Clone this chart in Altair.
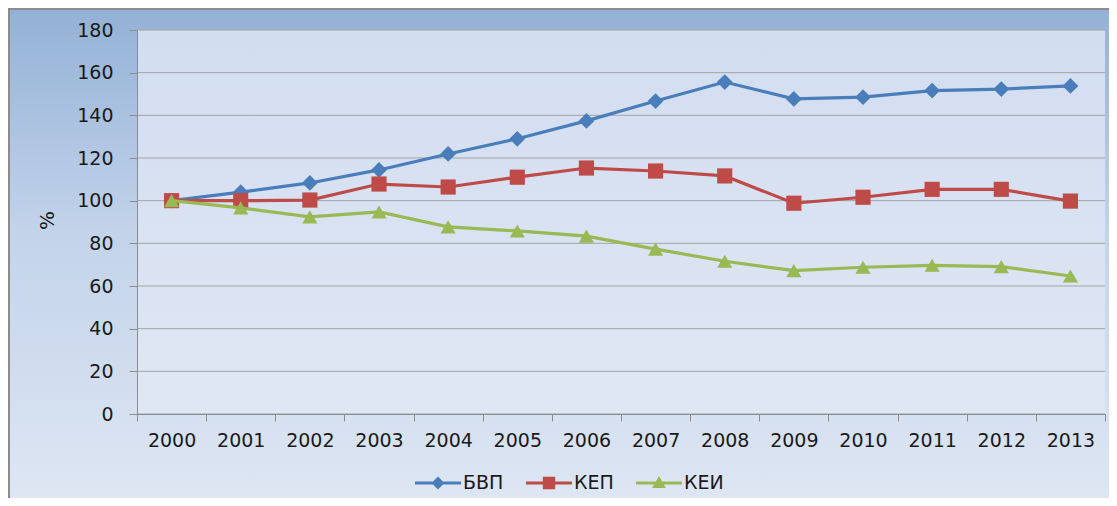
import altair as alt
import pandas as pd

years = [str(y) for y in range(2000, 2014)]
bvp = [100, 104, 108.3, 114.4, 121.9, 129, 137.4, 146.7, 155.6, 147.7, 148.5, 151.6, 152.3, 153.8]
kep = [100, 100, 100.3, 107.8, 106.4, 111, 115.3, 113.9, 111.6, 98.8, 101.6, 105.3, 105.3, 99.8]
kei = [100, 96.6, 92.4, 94.7, 87.7, 85.8, 83.4, 77.3, 71.6, 67.2, 68.8, 69.7, 69.1, 64.7]
series = ["БВП", "КЕП", "КЕИ"]
colors = ["#4A7EBB", "#BE4B48", "#98B954"]
markers = ["diamond", "square", "triangle-up"]
marker_sizes = [250, 230, 230]
y_ticks = list(range(0, 181, 20))

legend_paths = [
    "M-1,-0.065H1V0.065H-1Z M-0.28,0L0,-0.28L0.28,0L0,0.28Z",
    "M-1,-0.065H1V0.065H-1Z M-0.27,-0.27H0.27V0.27H-0.27Z",
    "M-1,-0.065H1V0.065H-1Z M0,-0.3L0.3,0.22L-0.3,0.22Z",
]

rows = []
for name, vals in zip(series, [bvp, kep, kei]):
    for yr, v in zip(years, vals):
        rows.append({"year": yr, "series": name, "value": v})
df = pd.DataFrame(rows)

W, H = 968, 384
PL, PT, PR, PB = 129, 22, 4, 84
FONT = "DejaVu Sans"
FS = 19

x_enc = alt.X(
    "year:O",
    scale=alt.Scale(type="band", domain=years, paddingInner=0, paddingOuter=0),
    axis=alt.Axis(
        title=None, labelAngle=0, tickBand="extent", grid=False,
        domainColor="#8C8C8C", tickColor="#8C8C8C", tickSize=7,
        labelFont=FONT, labelFontSize=FS, labelColor="#1A1A1A",
        labelPadding=10, zindex=1,
    ),
)
y_enc = alt.Y(
    "value:Q",
    scale=alt.Scale(domain=[0, 180], nice=False, zero=True),
    axis=alt.Axis(
        values=y_ticks, title="%", grid=False, tickSize=8,
        domainColor="#8C8C8C", tickColor="#8C8C8C",
        labelFont=FONT, labelFontSize=FS, labelColor="#1A1A1A",
        labelPadding=16, titleFont=FONT, titleFontSize=20,
        titleFontWeight="normal", titleColor="#1A1A1A",
        titleX=-80, titleY=190, zindex=1,
    ),
)

outer_bg = alt.Chart(alt.Data(values=[{}])).mark_rect(
    fill=alt.Gradient(
        gradient="linear", x1=0, y1=0, x2=0, y2=1,
        stops=[
            alt.GradientStop(color="#93B1D6", offset=0),
            alt.GradientStop(color="#C2D3EA", offset=0.45),
            alt.GradientStop(color="#DEE6F3", offset=1),
        ],
    ),
    stroke="#8C8C8C", strokeWidth=2,
).encode(
    x=alt.value(-PL + 1), x2=alt.value(W + PR + 2),
    y=alt.value(-PT + 1), y2=alt.value(H + PB + 2),
)

plot_bg = alt.Chart(alt.Data(values=[{}])).mark_rect(
    fill=alt.Gradient(
        gradient="linear", x1=0, y1=0, x2=0, y2=1,
        stops=[
            alt.GradientStop(color="#D2DDF0", offset=0),
            alt.GradientStop(color="#E0E7F4", offset=1),
        ],
    ),
).encode(x=alt.value(0), x2=alt.value(W), y=alt.value(0), y2=alt.value(H))

grid = alt.Chart(pd.DataFrame({"value": y_ticks})).mark_rule(
    color="#A3A3A3", strokeWidth=1
).encode(y=y_enc, x=alt.value(0), x2=alt.value(W))

layers = [outer_bg, plot_bg, grid]
for name, col, mk, ms in zip(series, colors, markers, marker_sizes):
    layers.append(
        alt.Chart(df).transform_filter(alt.datum.series == name).mark_line(
            color=col, strokeWidth=3.2,
            point=alt.OverlayMarkDef(shape=mk, size=ms, filled=True, color=col, opacity=1),
        ).encode(x=x_enc, y=y_enc)
    )

leg = alt.Legend(
    title=None, orient="none", legendX=278, legendY=430, direction="horizontal",
    labelFont=FONT, labelFontSize=FS, labelColor="#1A1A1A",
    symbolSize=2116, symbolStrokeWidth=0, symbolOpacity=1,
    labelOffset=2, columnPadding=22,
)
legend_layer = alt.Chart(df).mark_point(filled=True, opacity=0).encode(
    x=x_enc, y=y_enc,
    color=alt.Color("series:N", scale=alt.Scale(domain=series, range=colors), legend=leg),
    shape=alt.Shape("series:N", scale=alt.Scale(domain=series, range=legend_paths), legend=leg),
)
layers.append(legend_layer)

chart = alt.layer(*layers).properties(
    width=W, height=H,
    autosize=alt.AutoSizeParams(type="none"),
    padding={"left": PL, "top": PT, "right": PR, "bottom": PB},
    background="white",
).configure_view(stroke=None)

chart.save("out.html", embed_options={"renderer": "svg", "actions": False})
